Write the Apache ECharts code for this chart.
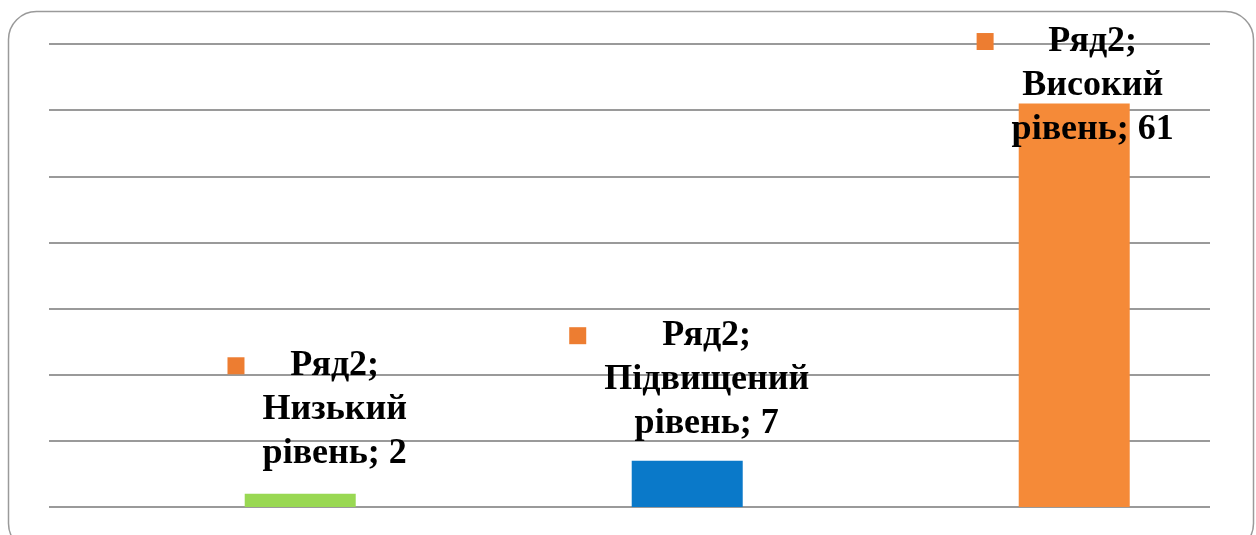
<!DOCTYPE html>
<html>
<head>
<meta charset="utf-8">
<title>Ряд2</title>
<script src="https://cdn.jsdelivr.net/npm/echarts@6/dist/echarts.min.js"></script>
<style>
  html, body { margin: 0; padding: 0; background: #fff; }
  #chart { width: 1256px; height: 535px; }
</style>
</head>
<body>
<div id="chart"></div>
<script>
// дані з діаграми
const categories = ['Низький рівень', 'Підвищений рівень', 'Високий рівень']
const ryad1 = [null, null, null] // порожній ряд, займає ліве місце в групі
const ryad2 = [2, 7, 61]
const barColors = ['#99D853', '#0A79C9', '#F58A38']
const yTicks = [0, 10, 20, 30, 40, 50, 60, 70]

const labelOffsets = [[17, -18], [2, -15], [1, 48]]

const chart = echarts.init(document.getElementById('chart'))

function labelText(p) {
  const words = p.name.split(' ')
  return '{sq|}{g|}{t|' + p.seriesName + ';}\n' +
    '{pad|}{t|' + words[0] + '}\n' +
    '{pad|}{t|' + words.slice(1).join(' ') + '; ' + p.value + '}'
}

const option = {
  animation: false,
  graphic: [{
    type: 'rect',
    left: 6,
    top: 9,
    shape: { width: 1245, height: 540, r: 28 },
    style: { fill: 'none', stroke: '#9a9a9a', lineWidth: 1.5 },
    z: -1
  }],
  grid: {
    left: 49,
    right: 46,
    top: 44,
    bottom: 28
  },
  xAxis: {
    type: 'category',
    data: categories,
    axisLine: { show: false },
    axisTick: { show: false },
    axisLabel: { show: false }
  },
  yAxis: {
    type: 'value',
    min: yTicks[0],
    max: yTicks[yTicks.length - 1],
    interval: 10,
    axisLine: { show: false },
    axisTick: { show: false },
    axisLabel: { show: false },
    splitLine: {
      lineStyle: { color: '#9a9a9a', width: 2 }
    }
  },
  series: [{
    name: 'Ряд1',
    type: 'bar',
    barWidth: 111,
    barGap: '4%',
    data: ryad1
  }, {
    name: 'Ряд2',
    type: 'bar',
    barWidth: 111,
    barGap: '4%',
    data: ryad2.map((v, i) => ({
      value: v,
      itemStyle: { color: barColors[i] },
      label: { offset: labelOffsets[i] }
    })),
    label: {
      show: true,
      position: 'top',
      distance: 0,
      formatter: labelText,
      rich: {
        sq: { width: 17, height: 17, backgroundColor: '#ED7D31', align: 'left' },
        g: { width: 18, align: 'left' },
        pad: { width: 35, align: 'left' },
        t: {
          align: 'center',
          fontFamily: '"Liberation Serif", "Times New Roman", serif',
          fontWeight: 'bold',
          fontSize: 36,
          lineHeight: 44,
          color: '#000'
        }
      }
    }
  }]
}

chart.setOption(option)
</script>
</body>
</html>
